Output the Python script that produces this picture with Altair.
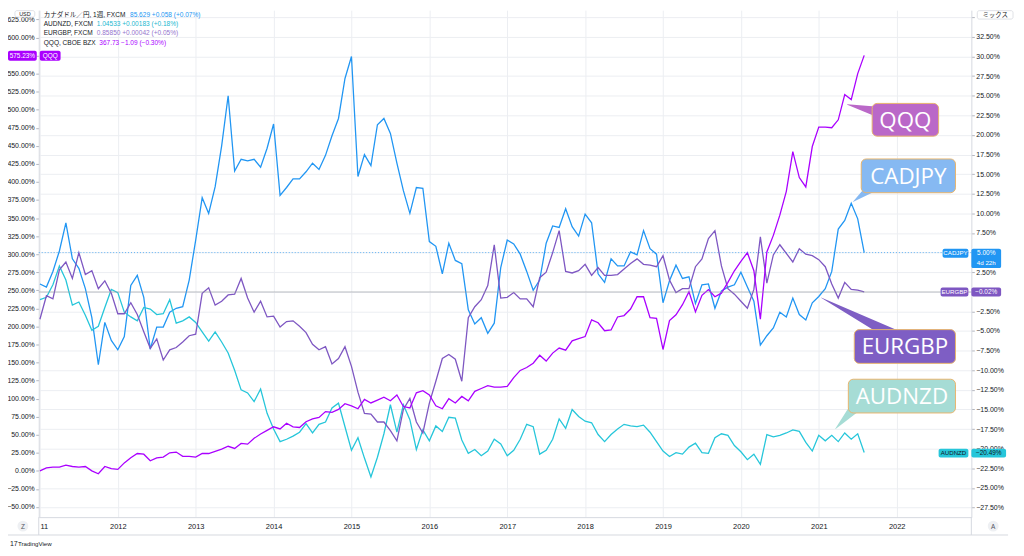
import altair as alt
import pandas as pd

# ---------------- data (monthly samples, Jan 2011 .. Aug 2021) ----------------
# QQQ on the left percent scale
qqq_pct = [0,
    4, 5, 5, 8, 6, 5, 6, 0, -4, 6, 3, 2,
    11, 18, 24, 23, 14, 18, 19, 25, 26, 20, 20, 19,
    24, 24, 27, 30, 34, 31, 38, 37, 45, 51, 56, 61,
    58, 66, 61, 60, 68, 72, 74, 82, 81, 85, 93, 90,
    86, 99, 94, 98, 102, 97, 105, 89, 87, 108, 111, 105,
    90, 86, 100, 94, 103, 97, 110, 114, 118, 116, 116, 117,
    129, 139, 143, 149, 160, 152, 163, 170, 167, 180, 183, 186,
    209, 205, 194, 195, 213, 215, 224, 241, 241, 212, 211, 168,
    208, 216, 230, 248, 220, 243, 251, 241, 246, 261, 277, 290,
    302, 277, 210, 303, 326, 354, 387, 442, 406, 393, 449, 476,
    476, 475, 486, 521, 514, 550, 575.23]

# FX pairs on the right percent scale
cadjpy_pct = [1.0,
    0.6, 2.6, 5.2, 8.8, 4.2, 3.0, 0.4, -3.3, -9.3, -3.9, -6.2, -7.4,
    -5.7, 0.8, 2.1, -0.7, -7.3, -4.5, -4.5, -2.6, -2.1, -1.9, 1.5, 6.6,
    12.0, 10.0, 13.4, 18.6, 25.0, 15.4, 16.9, 16.7, 16.9, 15.9, 18.3, 21.4,
    12.3, 13.3, 14.4, 14.4, 15.3, 16.4, 15.6, 17.4, 19.9, 22.1, 27.2, 30.0,
    14.7, 17.5, 16.1, 21.3, 22.1, 20.2, 16.4, 12.9, 10.0, 13.3, 13.2, 6.4,
    5.8, 2.3, 6.2, 4.0, 3.6, -2.3, -4.1, -3.3, -5.3, -4.0, 3.1, 6.6,
    6.1, 4.8, 2.6, 0.2, 1.5, 6.2, 8.4, 8.2, 10.6, 8.3, 7.1, 9.9,
    8.8, 2.3, 1.2, 4.2, 3.3, 3.3, 5.1, 4.7, 7.8, 5.5, 4.8, -1.4,
    1.4, 3.4, 1.7, 1.9, -1.5, 0.9, 1.0, -2.1, 0.1, 0.6, 0.9, 2.5,
    0.6, -1.2, -6.8, -5.6, -4.6, -2.6, -3.2, -0.8, -2.9, -3.6, -1.4, -0.6,
    0.4, 2.6, 8.0, 9.1, 11.3, 9.3, 5.0]

audnzd_pct = [-1.0,
    -0.7, 0.9, 3.3, 1.5, -1.7, -1.3, -3.0, -4.9, -4.4, -2.0, 0.3, -0.1,
    -2.6, -3.2, -3.7, -2.0, -2.2, -2.9, -2.8, -1.0, -4.0, -3.7, -3.2, -3.9,
    -5.1, -6.3, -5.1, -6.4, -7.8, -10.0, -12.5, -12.9, -14.0, -12.4, -15.5, -17.5,
    -19.1, -18.8, -18.4, -17.9, -16.8, -18.0, -16.9, -16.6, -14.8, -14.2, -17.2, -20.2,
    -18.6, -21.2, -23.6, -21.1, -18.1, -14.4, -17.9, -14.4, -16.3, -20.1, -17.6, -19.0,
    -17.1, -17.8, -16.0, -16.1, -18.9, -20.6, -20.1, -20.9, -20.3, -18.8, -19.4, -20.9,
    -20.2, -18.8, -16.9, -17.2, -20.7, -20.2, -18.8, -16.2, -17.4, -15.0, -15.9, -16.5,
    -16.7, -18.2, -19.1, -18.2, -17.5, -16.9, -17.1, -17.2, -17.0, -17.9, -19.1, -20.3,
    -21.0, -20.5, -20.7, -19.8, -19.3, -20.5, -20.6, -18.6, -18.1, -18.3, -19.6, -20.4,
    -21.4, -20.7, -22.0, -18.2, -18.5, -18.3, -18.0, -17.6, -17.8, -19.2, -20.3, -18.3,
    -19.0, -18.3, -19.1, -18.0, -18.8, -18.1, -20.49]

eurgbp_pct = [-3.5,
    -0.5, -0.9, 2.8, 3.8, 1.7, 5.0, 2.2, 2.7, 0.4, 1.4, -0.2, -2.8,
    -2.8, -1.4, -2.9, -5.1, -7.2, -6.0, -8.7, -7.4, -7.1, -6.4, -5.6, -5.4,
    -0.2, 0.5, -1.7, -1.2, -0.4, -0.3, 1.7, -0.8, -2.6, -1.2, -3.2, -3.1,
    -4.5, -3.8, -3.7, -4.4, -5.2, -6.7, -7.4, -7.0, -9.2, -8.5, -7.0, -9.5,
    -12.8, -15.5, -15.6, -16.6, -16.6, -17.7, -19.0, -15.0, -13.6, -16.6, -18.0, -14.2,
    -11.4, -8.5, -8.0, -8.6, -11.4, -3.3, -1.9, -1.0, 0.8, 6.0, -0.8, -0.7,
    -0.1, -0.9, -0.9, -1.9, 1.8, 2.5, 5.0, 7.8, 2.6, 2.4, 2.7, 3.5,
    2.1, 3.1, 2.1, 2.1, 2.2, 2.9, 3.6, 4.2, 3.5, 3.4, 3.2, 4.6,
    1.5, -0.1, 0.4, 0.4, 3.2, 4.2, 6.8, 7.8, 3.3, 0.4, -0.3, -1.2,
    -2.1, 0.3, 7.0, 1.1, 4.7, 6.0, 4.9, 3.8, 5.5, 4.8, 4.6, 4.1,
    3.2, 1.0, -0.8, 1.2, 0.3, 0.2, -0.02]

series_names = ["CADJPY", "AUDNZD", "EURGBP"]
series_colors = ["#2196f3", "#26c6da", "#7e57c2"]
QQQ_COL = "#aa00ff"

year_ticks = list(range(2011, 2023))
left_ticks = list(range(-50, 626, 25))
right_ticks = [-27.5 + 2.5 * i for i in range(26)]

legend_rows = [
    ("カナダドル／円, 1週, FXCM", "85.629  +0.058 (+0.07%)", "#2196f3"),
    ("AUDNZD, FXCM", "1.04533  +0.00183 (+0.18%)", "#22b8cf"),
    ("EURGBP, FXCM", "0.85850  +0.00042 (+0.05%)", "#9575cd"),
    ("QQQ, CBOE BZX", "367.73  \u22121.09 (\u22120.30%)", QQQ_COL),
]

# ---------------- layout ----------------
W, H = 940, 511
X0, X1 = 2010.985, 2022.959
R_MIN, R_MAX = -28.73, 35.91
L_MIN, L_MAX = -64.1, 637.8
FONT = "Liberation Sans, 'Noto Sans CJK JP', sans-serif"
GRID = "#eceef2"
DOM = "#d6d9e0"
TXT = "#131722"

t = [2011 + k / 12 for k in range(len(qqq_pct))]
df = pd.DataFrame({"t": t, "QQQ": qqq_pct, "CADJPY": cadjpy_pct,
                   "AUDNZD": audnzd_pct, "EURGBP": eurgbp_pct})
fx = df.melt("t", series_names, var_name="series", value_name="pct")

xsc = alt.Scale(domain=[X0, X1], nice=False, zero=False)
rsc = alt.Scale(domain=[R_MIN, R_MAX], nice=False, zero=False)
lsc = alt.Scale(domain=[L_MIN, L_MAX], nice=False, zero=False)

x_axis = alt.Axis(values=year_ticks, title=None, grid=True, gridColor=GRID,
                  domainColor=DOM, ticks=False, labelPadding=5, labelFontSize=7.5,
                  labelFont=FONT, labelColor=TXT, labelFlush=4, labelOverlap=False,
                  labelExpr="datum.value == 2011 ? '11' : format(datum.value, 'd')")
# labels hidden behind the scale-mode box / price tags in the reference are left blank
r_axis = alt.Axis(orient="right", values=right_ticks, title=None, grid=True, gridColor=GRID,
                  domainColor=DOM, tickColor="#b2b5be", tickSize=3, labelPadding=1.5,
                  labelFontSize=7, labelFont=FONT, labelColor=TXT, labelOverlap=False,
                  labelExpr="datum.value >= 35 ? '' : format(datum.value, '.2f') + '%'")
l_axis = alt.Axis(orient="left", values=left_ticks, title=None, grid=False,
                  domainColor=DOM, tickColor="#b2b5be", tickSize=3, labelPadding=1.5,
                  labelFontSize=7, labelFont=FONT, labelColor=TXT, labelOverlap=False,
                  labelExpr="datum.value == 575 ? '' : format(datum.value, '.2f') + '%'")

fx_lines = alt.Chart(fx).mark_line(strokeWidth=1.3, clip=True).encode(
    x=alt.X("t:Q", scale=xsc, axis=x_axis),
    y=alt.Y("pct:Q", scale=rsc, axis=r_axis),
    color=alt.Color("series:N", scale=alt.Scale(domain=series_names, range=series_colors), legend=None),
)
qqq_line = alt.Chart(df).mark_line(strokeWidth=1.3, color=QQQ_COL, clip=True).encode(
    x=alt.X("t:Q", scale=xsc, axis=None),
    y=alt.Y("QQQ:Q", scale=lsc, axis=l_axis),
)

# last-price lines
cad_line = alt.Chart(pd.DataFrame({"pct": [cadjpy_pct[-1]]})).mark_rule(
    color="#2196f3", strokeDash=[1, 2], strokeWidth=1, opacity=0.7).encode(
    y=alt.Y("pct:Q", scale=rsc, axis=None))
eur_line = alt.Chart(pd.DataFrame({"pct": [eurgbp_pct[-1]]})).mark_rule(
    color="#9598a1", strokeWidth=1, opacity=0.6).encode(
    y=alt.Y("pct:Q", scale=rsc, axis=None))

# ---------------- annotations (pixel positions inside the plot group) ----------------
frame = pd.DataFrame({
    "x": [-31, 0, 940], "x2": [977, 0, 940],
    "y": [529, 511, 511], "y2": [529, 529, 529]})
frame_rules = alt.Chart(frame).mark_rule(color=DOM, strokeWidth=1).encode(
    x=alt.X("x:Q", scale=None), x2="x2", y=alt.Y("y:Q", scale=None), y2="y2")

tags = pd.DataFrame([
    {"x": -31, "x2": -2, "y": 41, "y2": 51, "fill": QQQ_COL},
    {"x": 1, "x2": 22, "y": 41, "y2": 51, "fill": QQQ_COL},
    {"x": 911, "x2": 937, "y": 240.5, "y2": 249.5, "fill": "#2196f3"},
    {"x": 940, "x2": 970, "y": 240.5, "y2": 260, "fill": "#2196f3"},
    {"x": 909, "x2": 937, "y": 279.5, "y2": 288.5, "fill": "#7e57c2"},
    {"x": 940, "x2": 970, "y": 279.5, "y2": 288.5, "fill": "#7e57c2"},
    {"x": 907, "x2": 937, "y": 442, "y2": 451, "fill": "#26c6da"},
    {"x": 940, "x2": 975, "y": 442, "y2": 451, "fill": "#26c6da"},
])
tag_rects = alt.Chart(tags).mark_rect(cornerRadius=2).encode(
    x=alt.X("x:Q", scale=None), x2="x2", y=alt.Y("y:Q", scale=None), y2="y2",
    color=alt.Color("fill:N", scale=None))

boxes = pd.DataFrame([
    {"x": -24, "x2": -4, "y": 0.5, "y2": 7, "fill": "white"},
    {"x": 946, "x2": 982, "y": 0.5, "y2": 9, "fill": "white"},
])
hdr_boxes = alt.Chart(boxes).mark_rect(cornerRadius=2, stroke=DOM, strokeWidth=0.8).encode(
    x=alt.X("x:Q", scale=None), x2="x2", y=alt.Y("y:Q", scale=None), y2="y2",
    color=alt.Color("fill:N", scale=None))

circles = pd.DataFrame({"x": [-16, 962], "y": [520, 520]})
circ = alt.Chart(circles).mark_circle(size=120, color="#eef0f3", opacity=1).encode(
    x=alt.X("x:Q", scale=None), y=alt.Y("y:Q", scale=None))

callouts = pd.DataFrame([
    {"name": "QQQ", "x": 840, "x2": 907, "y": 94, "y2": 127, "fill": "#ba68c8",
     "tx": 815, "ty": 95, "bx": 848, "by": 103, "w": 11},
    {"name": "CADJPY", "x": 829, "x2": 924, "y": 150, "y2": 184, "fill": "#86b9f2",
     "tx": 821, "ty": 193, "bx": 843, "by": 176, "w": 12},
    {"name": "EURGBP", "x": 822, "x2": 924, "y": 322, "y2": 356, "fill": "#7e5ec4",
     "tx": 789, "ty": 290, "bx": 866, "by": 330, "w": 13},
    {"name": "AUDNZD", "x": 816, "x2": 924, "y": 372, "y2": 406, "fill": "#a6dcd5",
     "tx": 803, "ty": 422, "bx": 825, "by": 398, "w": 12},
])
ptr_rows = []
for _, r in callouts.iterrows():
    ptr_rows.append({"id": r["name"], "o": 0, "x": r["bx"], "y": r["by"], "w": r["w"], "fill": r["fill"]})
    ptr_rows.append({"id": r["name"], "o": 1, "x": r["tx"], "y": r["ty"], "w": 0.5, "fill": r["fill"]})
pointers = alt.Chart(pd.DataFrame(ptr_rows)).mark_trail().encode(
    x=alt.X("x:Q", scale=None), y=alt.Y("y:Q", scale=None),
    size=alt.Size("w:Q", scale=None), color=alt.Color("fill:N", scale=None),
    detail="id:N", order="o:Q")
callout_boxes = alt.Chart(callouts).mark_rect(cornerRadius=5, stroke="#e8b46c", strokeWidth=1).encode(
    x=alt.X("x:Q", scale=None), x2="x2", y=alt.Y("y:Q", scale=None), y2="y2",
    color=alt.Color("fill:N", scale=None))
callouts["cx"] = (callouts["x"] + callouts["x2"]) / 2
callouts["cy"] = (callouts["y"] + callouts["y2"]) / 2 + 1
callout_text = alt.Chart(callouts).mark_text(font="Open Sans", fontSize=22.5, color="white",
                                             baseline="middle", align="center").encode(
    x=alt.X("cx:Q", scale=None), y=alt.Y("cy:Q", scale=None), text="name:N")

ctext = pd.DataFrame([
    {"x": -16.5, "y": 46, "s": "575.23%", "c": "white", "fs": 6.5},
    {"x": 11.5, "y": 46, "s": "QQQ", "c": "white", "fs": 6.5},
    {"x": 924, "y": 245, "s": "CADJPY", "c": "white", "fs": 6.2},
    {"x": 955, "y": 245, "s": "5.00%", "c": "white", "fs": 6.5},
    {"x": 955, "y": 255, "s": "4d 22h", "c": "white", "fs": 6.2},
    {"x": 923, "y": 284, "s": "EURGBP", "c": "white", "fs": 6.2},
    {"x": 955, "y": 284, "s": "\u22120.02%", "c": "white", "fs": 6.5},
    {"x": 922, "y": 446.5, "s": "AUDNZD", "c": TXT, "fs": 6.2},
    {"x": 957.5, "y": 446.5, "s": "\u221220.49%", "c": TXT, "fs": 6.5},
    {"x": -14, "y": 4, "s": "USD", "c": TXT, "fs": 5.5},
    {"x": 964, "y": 5, "s": "ミックス", "c": TXT, "fs": 6.5},
    {"x": -16, "y": 520.5, "s": "Z", "c": "#50535e", "fs": 6.5},
    {"x": 962, "y": 520.5, "s": "A", "c": "#50535e", "fs": 6.5},
])
center_text = alt.Chart(ctext).mark_text(font=FONT, baseline="middle", align="center").encode(
    x=alt.X("x:Q", scale=None), y=alt.Y("y:Q", scale=None), text="s:N",
    color=alt.Color("c:N", scale=None), size=alt.Size("fs:Q", scale=None))

lrows = []
ys = [4.5, 14, 23.5, 33]
vx = [92, 58.5, 58.5, 61]
for (name, val, col), yy, xv in zip(legend_rows, ys, vx):
    lrows.append({"x": 5, "y": yy, "s": name, "c": TXT, "fs": 6.6})
    lrows.append({"x": xv, "y": yy, "s": val, "c": col, "fs": 6.6})
lrows.append({"x": -29, "y": 538, "s": "17", "c": TXT, "fs": 7})
lrows.append({"x": -21, "y": 538, "s": "TradingView", "c": TXT, "fs": 6.2})
left_text = alt.Chart(pd.DataFrame(lrows)).mark_text(font=FONT, baseline="middle", align="left").encode(
    x=alt.X("x:Q", scale=None), y=alt.Y("y:Q", scale=None), text="s:N",
    color=alt.Color("c:N", scale=None), size=alt.Size("fs:Q", scale=None))

chart = alt.layer(
    fx_lines, qqq_line, cad_line, eur_line, frame_rules,
    pointers, callout_boxes, callout_text,
    tag_rects, hdr_boxes, circ, center_text, left_text,
).resolve_scale(
    x="independent", y="independent", color="independent", size="independent"
).properties(
    width=W, height=H,
    padding={"left": 31, "top": 0, "right": 45, "bottom": 37},
    autosize=alt.AutoSizeParams(type="none"),
    background="white",
).configure_view(stroke=None)

chart.save("out.html", embed_options={"renderer": "svg", "actions": False})
